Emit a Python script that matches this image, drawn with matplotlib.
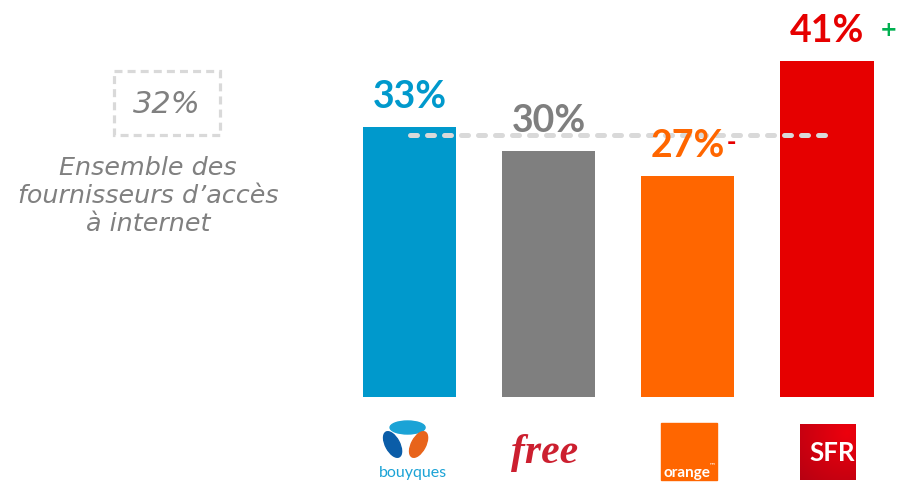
import numpy as np
import matplotlib
matplotlib.use("Agg")
import matplotlib.pyplot as plt
from matplotlib.patches import Rectangle, Ellipse

# Share of subscribers per internet provider (%)
providers = ["bouygues", "free", "orange", "sfr"]
values = [33, 30, 27, 41]
value_labels = ["33%", "30%", "27%", "41%"]
overall = 32
overall_label = "32%"
overall_caption = "Ensemble des\nfournisseurs d\u2019accès\nà internet"
bar_colors = ["#0099CC", "#7F7F7F", "#FF6600", "#E60000"]

W, H = 902, 485
fig = plt.figure(figsize=(W / 100, H / 100), dpi=100)
fig.patch.set_facecolor("white")

# main bar axes (pixel geometry: baseline at y=398, 8.19 px per point)
ax_left, ax_right = 340, 896.6
ax_bottom_px, ax_top_px = 398, 0
ax = fig.add_axes([ax_left / W, (H - ax_bottom_px) / H,
                   (ax_right - ax_left) / W, (ax_bottom_px - ax_top_px) / H])
x = np.arange(len(values))
ax.bar(x, values, width=0.67, color=bar_colors, zorder=2)
ax.set_xlim(-0.5, 3.5)
ax.set_ylim(0, 48.6)
ax.axis("off")

# average reference line across the bars
ax.plot([x[0], x[-1]], [overall, overall], color="#D9D9D9", lw=3.6,
        linestyle=(0, (1.4, 2.0)), dash_capstyle="round", zorder=3)

# value labels
for xi, v, lab, c in zip(x, values, value_labels, bar_colors):
    ax.annotate(lab, xy=(xi, v), xytext=(0, 14.4), textcoords="offset points",
                ha="center", va="baseline", color=c, fontsize=27,
                fontweight="bold", family=["Lato", "DejaVu Sans"], zorder=4)

# significance markers
ax.annotate("+", xy=(3, values[3]), xytext=(44.6, 23), textcoords="offset points",
            ha="center", va="center", color="#00B050", fontsize=15,
            fontweight="bold", family=["DejaVu Sans"])
ax.annotate("-", xy=(2, values[2]), xytext=(31.5, 24.5), textcoords="offset points",
            ha="center", va="center", color="#E60000", fontsize=16,
            fontweight="bold", family=["DejaVu Sans"])

# overlay in pixel coordinates for captions and logos
ov = fig.add_axes([0, 0, 1, 1])
ov.set_xlim(0, W)
ov.set_ylim(H, 0)
ov.axis("off")
ov.patch.set_alpha(0)

# overall average box
ov.add_patch(Rectangle((113.5, 71.5), 106.5, 64, fill=False, edgecolor="#D9D9D9",
                       lw=2.3, linestyle=(0, (2.5, 1.6))))
ov.text(167, 104.5, overall_label, ha="center", va="center", color="#808080",
        fontsize=22, fontstyle="italic", family=["DejaVu Sans"])
ov.text(148, 196, overall_caption, ha="center", va="center", color="#808080",
        fontsize=18.3, fontstyle="italic", linespacing=1.2,
        family=["DejaVu Sans"])

# logo centres follow the bar positions
cx = [ov.transData.inverted().transform(ax.transData.transform((xi, 0)))[0] for xi in x]

# bouygues
c0 = cx[0]
ov.add_patch(Ellipse((c0 - 2, 428.5), 35, 13, color="#1BA3D6"))
ov.add_patch(Ellipse((c0 - 17, 445.5), 14, 28, angle=-28, color="#0B5DA8"))
ov.add_patch(Ellipse((c0 + 9, 445.5), 14, 28, angle=28, color="#E8641B"))
ov.text(c0 + 3, 473, "bouyques", ha="center", va="center", color="#1BA3D6",
        fontsize=11.5, family=["Lato", "DejaVu Sans"])

# free
ov.text(cx[1] - 4, 453, "free", ha="center", va="center", color="#CC1F2F",
        fontsize=30, fontstyle="italic", fontweight="bold",
        family=["Liberation Serif", "DejaVu Serif"])

# orange
c2 = cx[2]
ov.add_patch(Rectangle((c2 - 26.5, 424), 56, 57, color="#FF6600"))
ov.text(c2 - 24, 477.5, "orange", ha="left", va="baseline", color="white",
        fontsize=11, fontweight="bold", family=["Lato", "DejaVu Sans"])
ov.text(c2 + 21, 467, "\u2122", ha="left", va="baseline", color="white",
        fontsize=5, family=["DejaVu Sans"])

# sfr with a soft red gradient
c3 = cx[3]
gx, gy = np.meshgrid(np.linspace(0, 1, 60), np.linspace(0, 1, 60))
t = np.clip(1 - np.hypot(gx - 0.85, gy - 0.15) / 1.2, 0, 1)
dark = np.array([0.72, 0.0, 0.07])
light = np.array([0.93, 0.0, 0.05])
img = dark + (light - dark) * t[..., None]
ov.imshow(img, extent=(c3 - 27, c3 + 29, 481, 425), aspect="auto", zorder=2,
          interpolation="bilinear")
ov.text(c3 + 5, 453, "SFR", ha="center", va="center", color="white",
        fontsize=18.5, fontweight="bold", family=["Lato", "DejaVu Sans"], zorder=3)
ov.set_xlim(0, W)
ov.set_ylim(H, 0)

fig.savefig("out.png", dpi=100, facecolor="white")
